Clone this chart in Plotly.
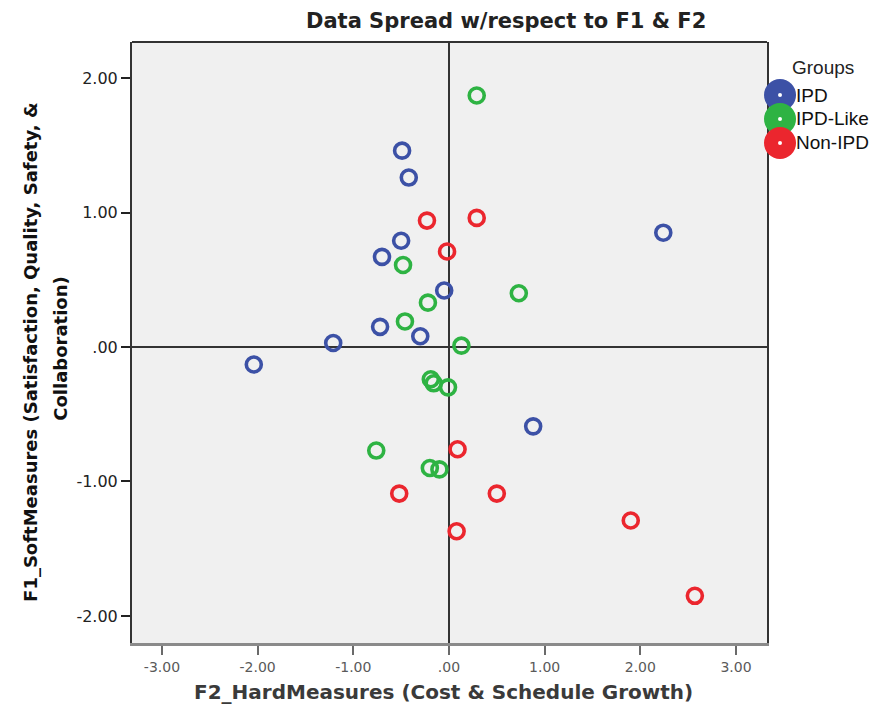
import plotly.graph_objects as go

# Factor scores per project group: F2 (hard measures) on x, F1 (soft measures) on y
ipd_f2 = [-0.49, -0.42, -0.50, -0.70, -0.05, -0.72, -0.30, -1.21, -2.04, 0.88, 2.24]
ipd_f1 = [1.46, 1.26, 0.79, 0.67, 0.42, 0.15, 0.08, 0.03, -0.13, -0.59, 0.85]

ipdlike_f2 = [0.29, -0.48, -0.22, -0.46, 0.13, 0.73, -0.19, -0.16, -0.01, -0.76, -0.20, -0.10]
ipdlike_f1 = [1.87, 0.61, 0.33, 0.19, 0.01, 0.40, -0.24, -0.27, -0.30, -0.77, -0.90, -0.91]

nonipd_f2 = [-0.23, 0.29, -0.02, 0.09, -0.52, 0.50, 0.08, 1.90, 2.57]
nonipd_f1 = [0.94, 0.96, 0.71, -0.76, -1.09, -1.09, -1.37, -1.29, -1.85]

group_names = ["IPD", "IPD-Like", "Non-IPD"]
group_colors = ["#3C51A6", "#2EB343", "#EB262E"]

tick_vals = [-3, -2, -1, 0, 1, 2, 3]
x_tick_text = ["-3.00", "-2.00", "-1.00", ".00", "1.00", "2.00", "3.00"]
y_tick_vals = [-2, -1, 0, 1, 2]
y_tick_text = ["-2.00", "-1.00", ".00", "1.00", "2.00"]

SANS = "Liberation Sans, Arial, sans-serif"
WIDE = "DejaVu Sans, Liberation Sans, sans-serif"

fig = go.Figure()
series = [(ipd_f2, ipd_f1), (ipdlike_f2, ipdlike_f1), (nonipd_f2, nonipd_f1)]
for (xs, ys), name, color in zip(series, group_names, group_colors):
    fig.add_trace(go.Scatter(
        x=xs, y=ys, mode="markers", name=name, showlegend=False,
        marker=dict(symbol="circle-open", size=15, color=color,
                    line=dict(width=3.6, color=color)),
    ))

# frame top edge
shapes = [dict(type="line", xref="paper", yref="paper", x0=0, x1=1, y0=1, y1=1,
               line=dict(color="#333333", width=2), layer="above")]

# legend swatches: large filled discs with a white centre dot
legend_y = [0.9118, 0.8719, 0.8320]
legend_x = 1.0205
for yc, color in zip(legend_y, group_colors):
    shapes.append(dict(type="circle", xref="paper", yref="paper",
                       xsizemode="pixel", ysizemode="pixel",
                       xanchor=legend_x, yanchor=yc,
                       x0=-16, x1=16, y0=-16, y1=16,
                       fillcolor=color, line=dict(width=0), layer="above"))
for yc in legend_y:
    shapes.append(dict(type="circle", xref="paper", yref="paper",
                       xsizemode="pixel", ysizemode="pixel",
                       xanchor=legend_x, yanchor=yc,
                       x0=-2, x1=2, y0=-2, y1=2,
                       fillcolor="white", line=dict(width=0), layer="above"))

annotations = [
    dict(text="<b>Data Spread w/respect to F1 & F2</b>", xref="paper", yref="paper",
         x=0.589, y=1.035, xanchor="center", yanchor="middle", showarrow=False,
         font=dict(family=WIDE, size=21, color="#222222")),
    dict(text="<b>F1_SoftMeasures (Satisfaction, Quality, Safety, &</b>",
         xref="paper", yref="paper", x=-0.160, y=0.485, textangle=-90,
         xanchor="center", yanchor="middle", showarrow=False,
         font=dict(family=WIDE, size=18, color="#111111")),
    dict(text="<b>Collaboration)</b>",
         xref="paper", yref="paper", x=-0.113, y=0.49, textangle=-90,
         xanchor="center", yanchor="middle", showarrow=False,
         font=dict(family=WIDE, size=18, color="#111111")),
    dict(text="<b>F2_HardMeasures (Cost & Schedule Growth)</b>", xref="paper", yref="paper",
         x=0.491, y=-0.0815, xanchor="center", yanchor="middle", showarrow=False,
         font=dict(family=WIDE, size=20, color="#3a3a3a")),
    dict(text="Groups", xref="paper", yref="paper", x=1.036, y=0.958,
         xanchor="left", yanchor="middle", showarrow=False,
         font=dict(family=SANS, size=19, color="#222222")),
]
for yc, name in zip(legend_y, group_names):
    annotations.append(dict(text=name, xref="paper", yref="paper", x=1.042, y=yc,
                            xanchor="left", yanchor="middle", showarrow=False,
                            font=dict(family=SANS, size=19, color="#111111")))

fig.update_layout(
    width=879, height=708,
    margin=dict(l=132, r=112, t=42, b=65),
    paper_bgcolor="white", plot_bgcolor="#F0F0F0",
    shapes=shapes, annotations=annotations,
    xaxis=dict(range=[-3.313, 3.324], tickvals=tick_vals, ticktext=x_tick_text,
               showgrid=False, zeroline=True, zerolinecolor="#333333", zerolinewidth=2,
               showline=True, linecolor="#8a8a8a", linewidth=3,
               ticks="outside", ticklen=9, tickwidth=2, tickcolor="#6a6a6a",
               tickfont=dict(family=WIDE, size=14, color="#5a5a5a")),
    yaxis=dict(range=[-2.201, 2.268], tickvals=y_tick_vals, ticktext=y_tick_text,
               showgrid=False, zeroline=True, zerolinecolor="#333333", zerolinewidth=1.6,
               showline=True, linecolor="#333333", linewidth=2, mirror=True,
               ticks="outside", ticklen=9, tickwidth=2, tickcolor="#222222",
               tickfont=dict(family=WIDE, size=16, color="#222222")),
)

fig.write_html("out.html")
